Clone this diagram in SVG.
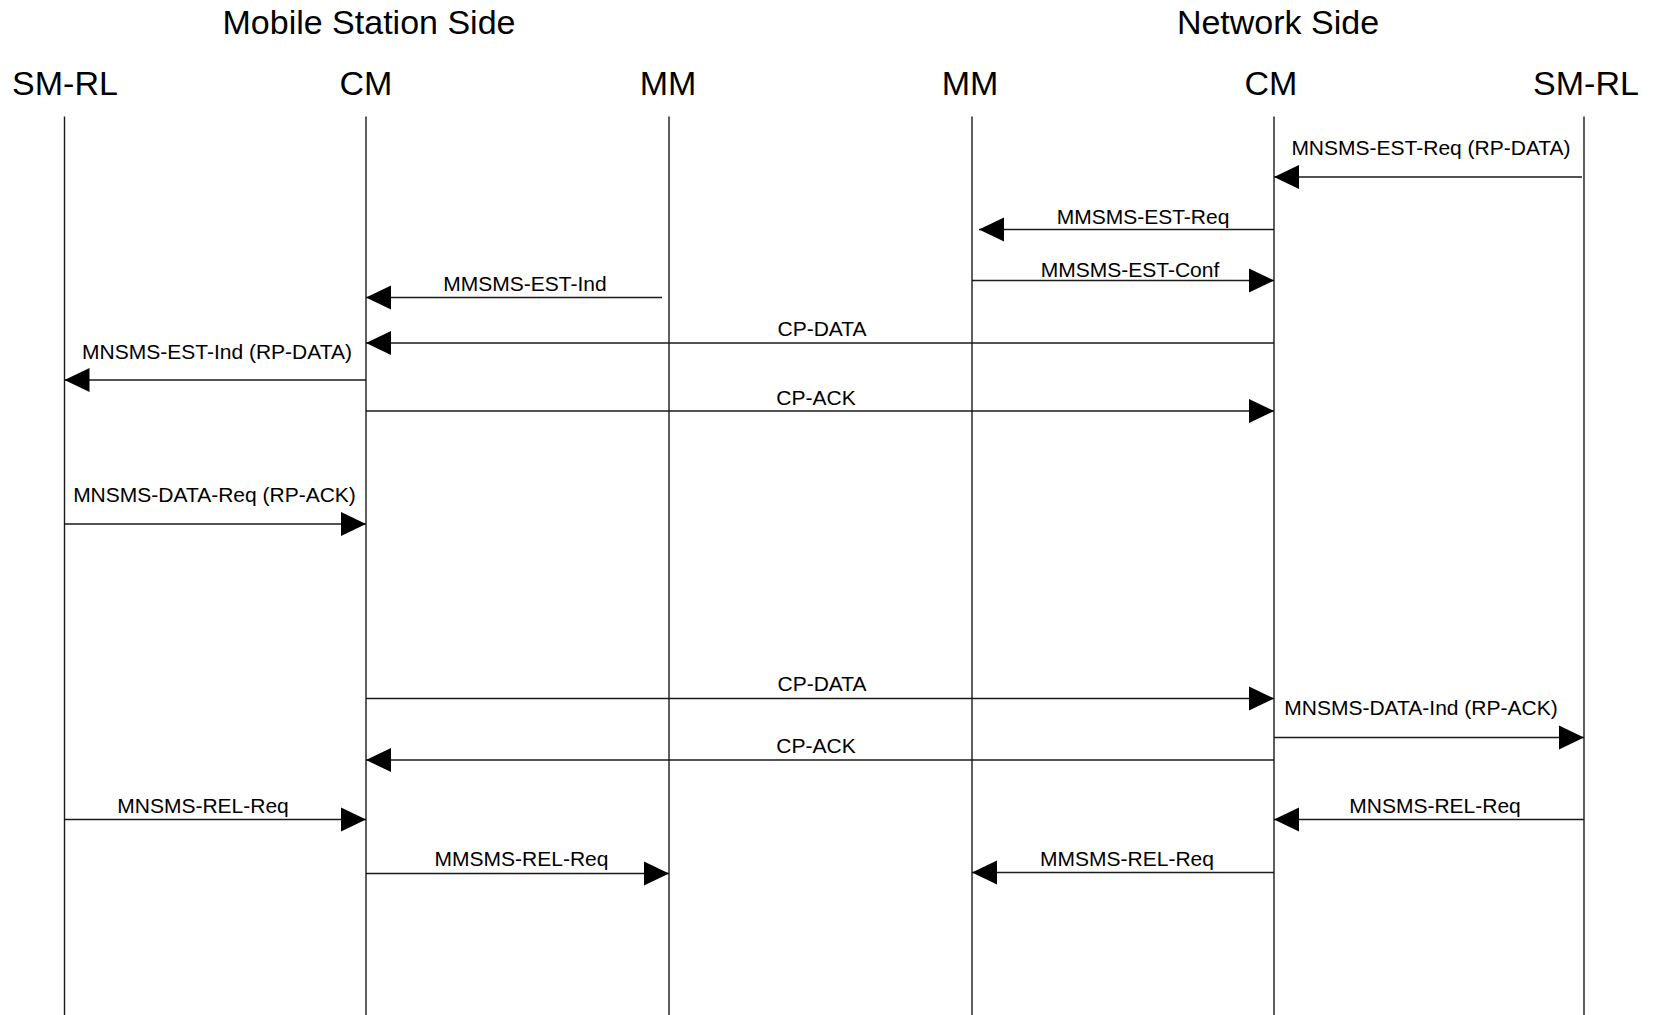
<svg xmlns="http://www.w3.org/2000/svg" width="1660" height="1015" viewBox="0 0 1660 1015">
<style>
text{font-family:"Liberation Sans",Arial,Helvetica,sans-serif;fill:#000}
.hdr{font-size:34px;text-anchor:middle}
.lbl{font-size:21px;text-anchor:middle}
.life{stroke:#1a1a1a;stroke-width:1.4;fill:none}
.msg{stroke:#1a1a1a;stroke-width:1.6;fill:none;marker-end:url(#ah)}
</style>
<defs>
<marker id="ah" markerUnits="userSpaceOnUse" markerWidth="26" markerHeight="26" viewBox="0 0 26 24" refX="25" refY="12" orient="auto">
<path d="M0,0 L25,12 L0,24 z" fill="#000"/>
</marker>
</defs>
<rect width="1660" height="1015" fill="#fff"/>
<g id="titles">
<text class="hdr" x="369" y="34">Mobile Station Side</text>
<text class="hdr" x="1278" y="34">Network Side</text>
</g>
<g id="ms-smrl"><text class="hdr" x="65" y="95">SM-RL</text><line class="life" x1="64.5" y1="116.5" x2="64.5" y2="1015"/></g>
<g id="ms-cm"><text class="hdr" x="366" y="95">CM</text><line class="life" x1="366" y1="116.5" x2="366" y2="1015"/></g>
<g id="ms-mm"><text class="hdr" x="668" y="95">MM</text><line class="life" x1="669" y1="116.5" x2="669" y2="1015"/></g>
<g id="nw-mm"><text class="hdr" x="970" y="95">MM</text><line class="life" x1="972" y1="116.5" x2="972" y2="1015"/></g>
<g id="nw-cm"><text class="hdr" x="1271" y="95">CM</text><line class="life" x1="1274" y1="116.5" x2="1274" y2="1015"/></g>
<g id="nw-smrl"><text class="hdr" x="1586" y="95">SM-RL</text><line class="life" x1="1584" y1="116.5" x2="1584" y2="1015"/></g>
<g id="connectors">
<line class="msg" x1="1582" y1="177" x2="1274" y2="177"/>
<text class="lbl" x="1431" y="154.5">MNSMS-EST-Req (RP-DATA)</text>
<line class="msg" x1="1274" y1="229.5" x2="979" y2="229.5"/>
<text class="lbl" x="1143" y="223.5">MMSMS-EST-Req</text>
<line class="msg" x1="972" y1="280.5" x2="1274" y2="280.5"/>
<text class="lbl" x="1130" y="276.5">MMSMS-EST-Conf</text>
<line class="msg" x1="662" y1="297.5" x2="366" y2="297.5"/>
<text class="lbl" x="525" y="291">MMSMS-EST-Ind</text>
<line class="msg" x1="1274" y1="343" x2="366" y2="343"/>
<text class="lbl" x="822" y="335.5">CP-DATA</text>
<line class="msg" x1="366" y1="380" x2="64.5" y2="380"/>
<text class="lbl" x="217" y="359">MNSMS-EST-Ind (RP-DATA)</text>
<line class="msg" x1="366" y1="411" x2="1274" y2="411"/>
<text class="lbl" x="816" y="404.5">CP-ACK</text>
<line class="msg" x1="64.5" y1="524" x2="366" y2="524"/>
<text class="lbl" x="214.5" y="502">MNSMS-DATA-Req (RP-ACK)</text>
<line class="msg" x1="366" y1="698.5" x2="1274" y2="698.5"/>
<text class="lbl" x="822" y="690.5">CP-DATA</text>
<line class="msg" x1="1274" y1="737.5" x2="1584" y2="737.5"/>
<text class="lbl" x="1421" y="714.5">MNSMS-DATA-Ind (RP-ACK)</text>
<line class="msg" x1="1274" y1="760" x2="366" y2="760"/>
<text class="lbl" x="816" y="752.5">CP-ACK</text>
<line class="msg" x1="64.5" y1="819.5" x2="366" y2="819.5"/>
<text class="lbl" x="203" y="813">MNSMS-REL-Req</text>
<line class="msg" x1="1584" y1="819.5" x2="1274" y2="819.5"/>
<text class="lbl" x="1435" y="813">MNSMS-REL-Req</text>
<line class="msg" x1="366" y1="873.5" x2="669" y2="873.5"/>
<text class="lbl" x="521.5" y="866">MMSMS-REL-Req</text>
<line class="msg" x1="1274" y1="872.5" x2="972" y2="872.5"/>
<text class="lbl" x="1127" y="866">MMSMS-REL-Req</text>
</g>
</svg>
